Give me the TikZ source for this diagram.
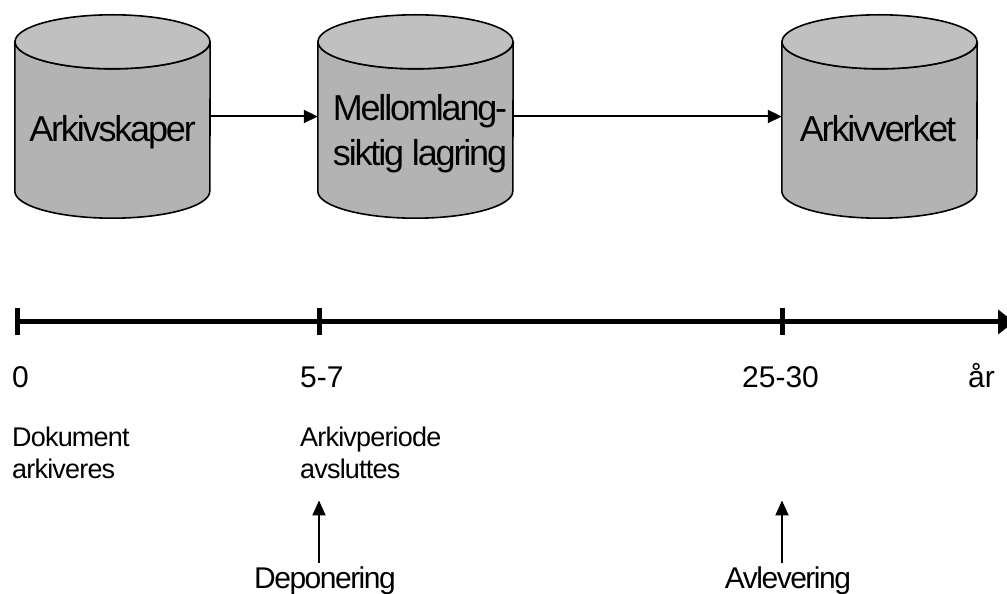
\documentclass[tikz,border=0pt]{standalone}
\usepackage{fontspec}
\setmainfont{Liberation Sans}
\newfontfamily\tightsans[LetterSpace=-6]{Liberation Sans}
\newfontfamily\handsans[LetterSpace=-5]{Liberation Sans}
\newfontfamily\notesans[LetterSpace=-3]{Liberation Sans}
\usepackage{tikz}
\usetikzlibrary{positioning,arrows.meta,calc}
\definecolor{tankgray}{HTML}{B3B3B3}
\definecolor{lidgray}{HTML}{C0C0C0}
\tikzset{
  tankbox/.style={minimum width=195pt,minimum height=203pt,inner sep=0pt},
  tankbody/.style={draw,line width=1.6pt,fill=tankgray},
  tanklid/.style={draw,line width=1.6pt,fill=lidgray},
  tanklabel/.style={font=\fontsize{36}{45}\selectfont\tightsans,align=center,anchor=base,inner sep=0pt},
  flow/.style={-{Triangle[length=14pt,width=13pt]},line width=2pt},
  timeline/.style={-{Triangle[length=16pt,width=24pt]},line width=5pt},
  yeartick/.style={line width=5pt},
  yearlabel/.style={font=\fontsize{30}{36}\selectfont,anchor=base west,inner sep=0pt},
  eventlabel/.style={font=\fontsize{27}{32}\selectfont\notesans,anchor=base west,align=left,inner sep=0pt},
  handover/.style={font=\fontsize{30}{36}\selectfont\handsans,anchor=base,inner sep=0pt},
  uparrow/.style={-{Triangle[length=15pt,width=13pt]},line width=2pt},
}
\newcommand{\drawtank}[1]{%
  \path[tankbody] ($(#1.north west)+(0,-27)$) -- ($(#1.south west)+(0,27)$)
    arc[start angle=180,end angle=360,x radius=97.5pt,y radius=27pt]
    -- ($(#1.north east)+(0,-27)$)
    arc[start angle=0,end angle=-180,x radius=97.5pt,y radius=27pt] -- cycle;
  \path[tanklid] ($(#1.north)+(0,-27)$) ellipse[x radius=97.5pt,y radius=27pt];
}

\begin{document}
\begin{tikzpicture}[x=1pt,y=1pt]
  \useasboundingbox (0,0) rectangle (1007,594);
  % lagre
  \node[tankbox] (skaper) at (112.5,477.5) {};
  \node[tankbox] (mellom) at (415.5,477.5) {};
  \node[tankbox] (verket) at (879.5,477.5) {};
  \drawtank{skaper}
  \drawtank{mellom}
  \drawtank{verket}
  \node[tanklabel] (skaper-t) at (112.5,452) {Arkivskaper};
  \node[tanklabel] (mellom-t) at (420,428) {Mellomlang-\\siktig lagring};
  \node[tanklabel] (verket-t) at (878,452) {Arkivverket};
  \draw[flow] (skaper.east) -- (mellom.west);
  \draw[flow] (mellom.east) -- (verket.west);
  % tidslinje
  \coordinate (y0) at (17,272);
  \coordinate (y5) at (319,272);
  \coordinate (y25) at (782,272);
  \coordinate (yend) at (1014,272);
  \draw[timeline] (y0) -- (yend);
  \foreach \t in {y0,y5,y25}
    \draw[yeartick] ($(\t)+(0,13.5)$) -- ($(\t)+(0,-13.5)$);
  \node[yearlabel] (l0) at (12,206) {0};
  \node[yearlabel] (l5) at (300,206) {5-7};
  \node[yearlabel] (l25) at (742,206) {25-30};
  \node[yearlabel] (lar) at (968,206) {år};
  \node[eventlabel] (dok) at (12,115) {Dokument\\arkiveres};
  \node[eventlabel] (aper) at (300,115) {Arkivperiode\\avsluttes};
  % overf\o ring
  \node[handover] (dep) at (325,5.5) {Deponering};
  \node[handover] (avl) at (788,5.5) {Avlevering};
  \draw[uparrow,shorten <=4pt,shorten >=21pt] (dep.north -| y5) -- (aper.south -| y5);
  \draw[uparrow,shorten <=4pt,shorten >=21pt] (avl.north -| y25) -- (aper.south -| y25);
\end{tikzpicture}
\end{document}
